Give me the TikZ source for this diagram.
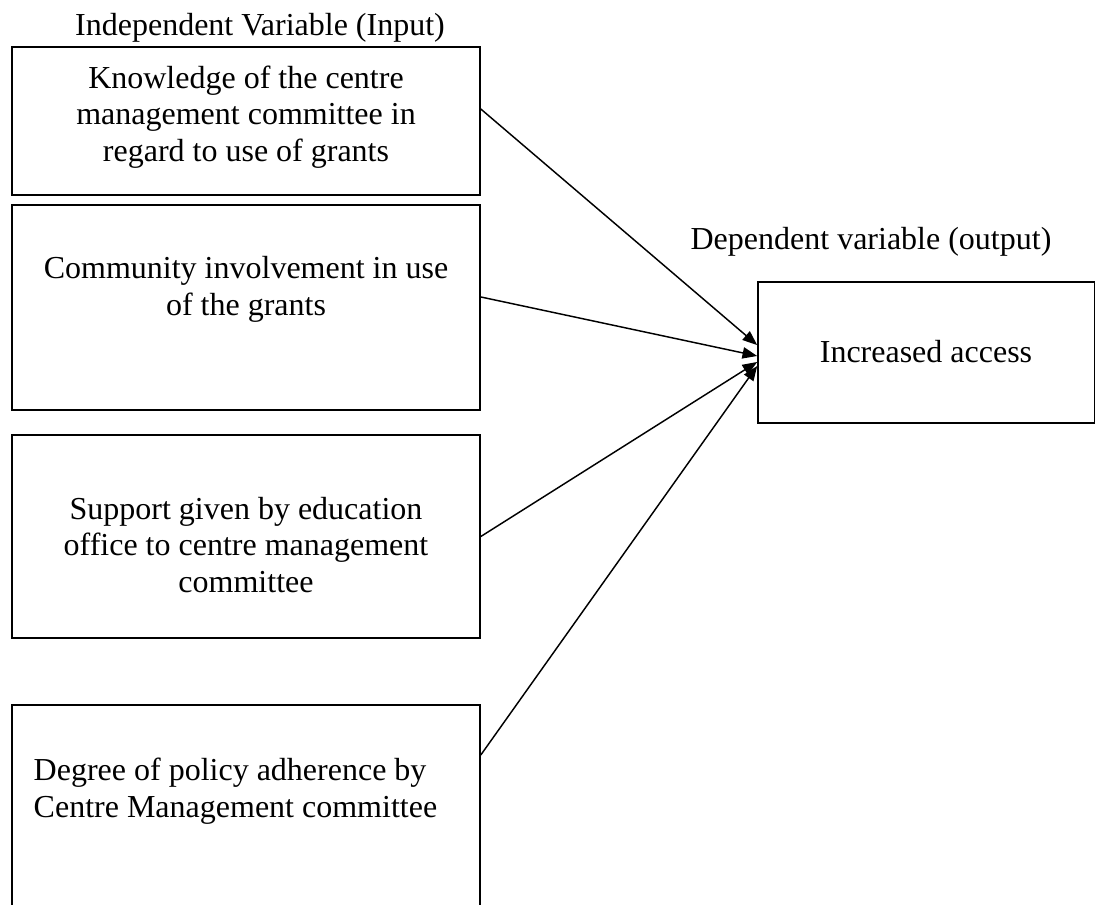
\documentclass[tikz,border=0pt]{standalone}
\usepackage{fontspec}
\setmainfont{Liberation Serif}
\usetikzlibrary{arrows.meta}

\begin{document}
\begin{tikzpicture}[x=0.75pt,y=-0.75pt,->,>={Triangle[length=11pt,width=8.5pt]},
  line width=1.1pt,
  frame/.style={draw,line width=1.2pt,rectangle,inner sep=0pt,minimum width=351pt},
  box text/.style={font=\fontsize{24}{27.6}\selectfont,align=center,inner sep=0pt}]

  \useasboundingbox (0,0) rectangle (1096,904);

  % frames
  \node[frame,minimum height=111pt] (kbox) at (246,121) {};
  \node[frame,minimum height=153.75pt] (cbox) at (246,307.5) {};
  \node[frame,minimum height=152.25pt] (sbox) at (246,536.5) {};
  \node[frame,minimum height=153.75pt] (dbox) at (246,807.5) {};
  \node[frame,minimum width=252.4pt,minimum height=105.75pt] (abox) at (926.25,352.5) {};

  % texts
  \node[box text] (intitle) at (260,28) {Independent Variable (Input)};
  \node[box text] (outtitle) at (871,242) {Dependent variable (output)};
  \node[box text] (ktext) at (246,117) {Knowledge of the centre\\management committee in\\regard to use of grants};
  \node[box text] (ctext) at (246,289) {Community involvement in use\\of the grants};
  \node[box text] (stext) at (246,545) {Support given by education\\office to centre management\\committee};
  \node[box text,align=left,anchor=west] (dtext) at (33,791) {Degree of policy adherence by\\Centre Management committee};
  \node[box text] (atext) at (926,352) {Increased access};

  \draw ([yshift=9pt]kbox.east) -- ([yshift=5.6pt]abox.west);
  \draw ([yshift=7.9pt]cbox.east) -- ([yshift=-2.6pt]abox.west);
  \draw (sbox.east) -- ([yshift=-7.1pt]abox.west);
  \draw ([yshift=39.4pt]dbox.east) -- ([yshift=-10.1pt]abox.west);

\end{tikzpicture}
\end{document}
